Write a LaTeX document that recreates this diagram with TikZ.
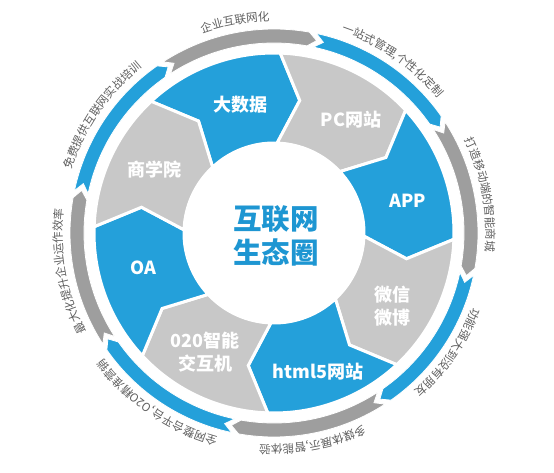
\documentclass[tikz,border=0pt]{standalone}
\usepackage{fontspec}
\usepackage{tikz}
\usetikzlibrary{decorations.text}
\newfontfamily\cjk{Noto Sans CJK SC}

\definecolor{segblue}{RGB}{36,160,218}
\definecolor{seggray}{RGB}{200,200,200}
\definecolor{rimgray}{RGB}{158,158,158}
\definecolor{coreblue}{RGB}{30,150,210}
\definecolor{txtgray}{RGB}{95,95,95}

\newcommand\rimfont{\cjk\fontsize{11.5pt}{11.5pt}\selectfont\color{txtgray}}

% one chevron of the inner ring: start angle, fill
\newcommand\ringseg[2]{%
  \filldraw[ringline, fill=#2] (#1:180pt) -- ({#1-9}:135pt) -- (#1:90pt)
    arc[start angle=#1, end angle={#1-45}, radius=90pt]
    -- ({#1-54}:135pt) -- ({#1-45}:180pt)
    arc[start angle={#1-45}, end angle=#1, radius=180pt] -- cycle;}

% one arrow of the outer rim: start angle, fill
\newcommand\rimseg[2]{%
  \filldraw[rimline, fill=#2] (#1:204pt) -- ({#1-2.5}:197pt) -- (#1:190pt)
    arc[start angle=#1, end angle={#1-43}, radius=190pt]
    -- ({#1-45.5}:197pt) -- ({#1-43}:204pt)
    arc[start angle={#1-43}, end angle=#1, radius=204pt] -- cycle;}

% text along the rim: start angle, text
\newcommand\rimtext[2]{%
  \path[decorate, decoration={text along path, text align=center,
    text={|\rimfont|#2}}]
    ({#1-1}:212pt) arc[start angle={#1-1}, end angle={#1-44}, radius=212pt];}

\tikzset{
  ringline/.style={draw=white, line width=3pt, line join=miter},
  rimline/.style={draw=white, line width=0.8pt},
  seglabel/.style={text=white, align=center,
    font=\cjk\bfseries\fontsize{18pt}{23pt}\selectfont},
  corelabel/.style={text=coreblue, align=center,
    font=\cjk\bfseries\fontsize{28.5pt}{34pt}\selectfont}
}

\begin{document}
\begin{tikzpicture}
    \useasboundingbox (0,0) rectangle (554pt,472pt);

    \begin{scope}[shift={(274pt,239pt)}]
    % inner ring
    \ringseg{133}{segblue}
    \ringseg{88}{seggray}
    \ringseg{43}{segblue}
    \ringseg{-2}{seggray}
    \ringseg{-47}{segblue}
    \ringseg{-92}{seggray}
    \ringseg{-137}{segblue}
    \ringseg{178}{seggray}

    \fill[white] (0,0) circle[radius=91pt];

    % outer rim
    \rimseg{123}{rimgray}
    \rimseg{78}{segblue}
    \rimseg{33}{rimgray}
    \rimseg{-12}{segblue}
    \rimseg{-57}{rimgray}
    \rimseg{-102}{segblue}
    \rimseg{-147}{rimgray}
    \rimseg{168}{segblue}

    \rimtext{123}{企业互联网化}
    \rimtext{78}{一站式管理{,}个性化定制}
    \rimtext{33}{打造移动端的智能商城}
    \rimtext{-12}{功能强大到没有朋友}
    \rimtext{-57}{多媒体展示{,}智能体验}
    \rimtext{-102}{全网整合平台{,}O2O精准营销}
    \rimtext{-147}{最大化提升企业运作效率}
    \rimtext{168}{免费提供互联网实战培训}
    \end{scope}

    % labels
    \node[corelabel] (core) at (276pt,236pt) {互联网\\生态圈};
    \node[seglabel] (bigdata) at (240pt,367pt) {大数据};
    \node[seglabel] (pcsite) at (351pt,352pt) {PC网站};
    \node[seglabel] (app) at (408pt,271pt) {APP};
    \node[seglabel] (wechat) at (392pt,166pt) {微信\\微博};
    \node[seglabel] (html) at (318pt,100pt) {html5网站};
    \node[seglabel] (otoo) at (205pt,120pt) {020智能\\交互机};
    \node[seglabel] (oa) at (143pt,204pt) {OA};
    \node[seglabel] (school) at (154pt,302pt) {商学院};
\end{tikzpicture}
\end{document}
